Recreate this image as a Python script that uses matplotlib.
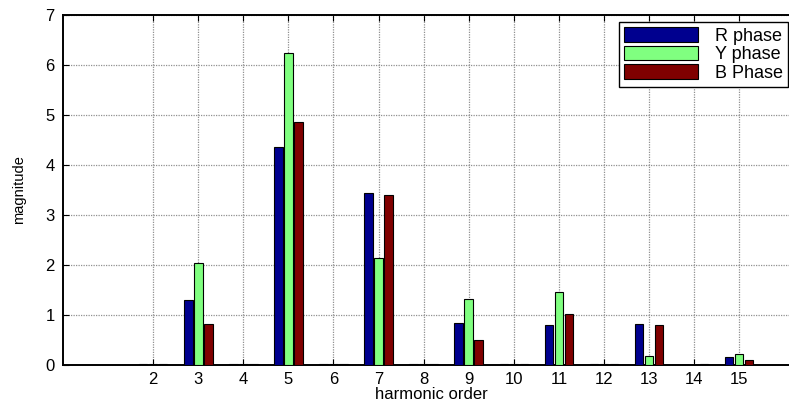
import matplotlib.pyplot as plt
import numpy as np

plt.rcParams['font.family'] = ['Liberation Sans', 'DejaVu Sans']

harmonics = [2, 3, 4, 5, 6, 7, 8, 9, 10, 11, 12, 13, 14, 15]
r_phase = [0.03, 1.31, 0.03, 4.37, 0.03, 3.45, 0.03, 0.84, 0.03, 0.80, 0.03, 0.82, 0.01, 0.16]
y_phase = [0.03, 2.04, 0.03, 6.24, 0.03, 2.15, 0.03, 1.33, 0.03, 1.47, 0.03, 0.18, 0.00, 0.22]
b_phase = [0.03, 0.82, 0.03, 4.86, 0.03, 3.40, 0.03, 0.50, 0.03, 1.03, 0.03, 0.80, 0.03, 0.10]

series = [
    ("R phase", r_phase, "#00008f"),
    ("Y phase", y_phase, "#80ff80"),
    ("B Phase", b_phase, "#800000"),
]

W, H = 789, 404
fig = plt.figure(figsize=(W / 100, H / 100), dpi=100)
ax = fig.add_axes([63 / W, 1 - 365 / H, (800 - 63) / W, 350 / H])

# grouped bars, three phases per harmonic
x = np.array(harmonics, dtype=float)
step = 0.222
width = 0.19
for i, (label, vals, color) in enumerate(series):
    ax.bar(x + (i - 1) * step, vals, width, color=color, edgecolor="black",
           linewidth=0.8, label=label, zorder=3)

ax.set_xlim(0, (800 - 63) / 45.08)
ax.set_ylim(0, 7)
ax.set_xticks(harmonics)
ax.set_yticks(range(8))
ax.tick_params(direction="in", top=True, right=True, labelsize=12, length=4)
ax.tick_params(axis="y", pad=6)
ax.tick_params(axis="x", pad=5)
ax.grid(True, color="#909090", linestyle=(0, (1, 1)), linewidth=0.9, zorder=0)
for s in ax.spines.values():
    s.set_linewidth(1.4)

ax.set_xlabel("harmonic order", fontsize=12, labelpad=0)
ax.set_ylabel("magnitude", fontsize=10.5, labelpad=14)

leg = ax.legend(loc="upper right", bbox_to_anchor=(788 / W, 1 - 22 / H),
                bbox_transform=fig.transFigure, borderaxespad=0,
                fancybox=False, framealpha=1, edgecolor="black",
                fontsize=13, handlelength=4.1, handleheight=0.85,
                labelspacing=0.05, handletextpad=0.9, borderpad=0.3,
                alignment="left")
leg.get_frame().set_linewidth(1.0)

fig.savefig("out.png", dpi=100)
